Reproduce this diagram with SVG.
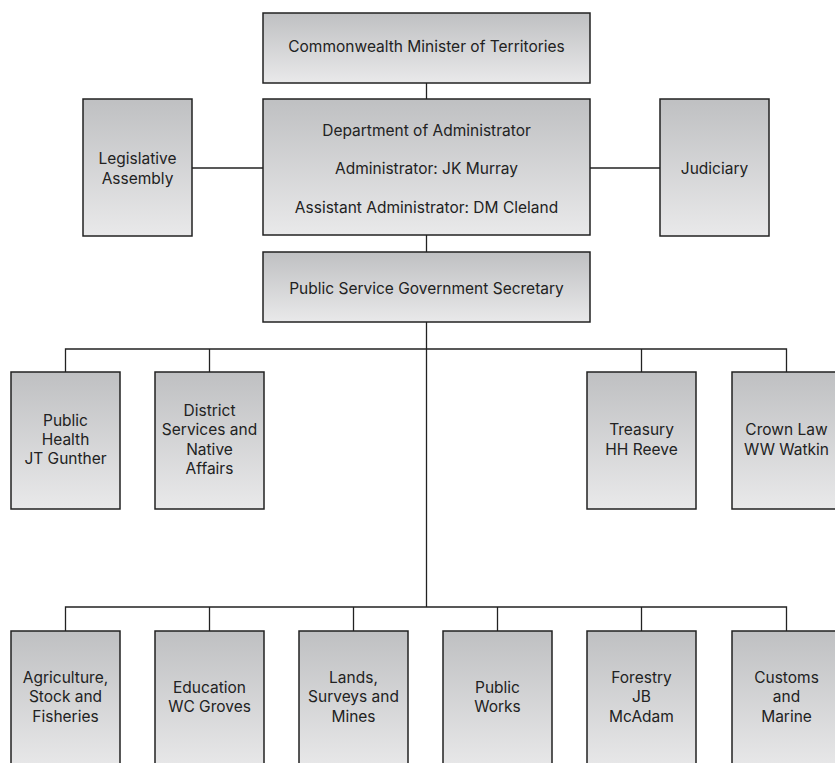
<svg xmlns="http://www.w3.org/2000/svg" width="835" height="763" viewBox="0 0 835 763">
<defs>
<linearGradient id="g" x1="0" y1="0" x2="0" y2="1">
<stop offset="0" stop-color="#bfc0c2"/>
<stop offset="1" stop-color="#e9e9ea"/>
</linearGradient>
<style>
.box{fill:url(#g);stroke:#222;stroke-width:1.5}
.t{font-family:Inter,"Liberation Sans",Arial,sans-serif;font-size:15.5px;fill:#222;text-anchor:middle;dominant-baseline:central}
.c{stroke:#222;stroke-width:1.3;fill:none}
</style>
</defs>
<rect width="835" height="763" fill="#fff"/>
<g id="connectors">
<line class="c" x1="426.5" y1="83" x2="426.5" y2="99"/>
<line class="c" x1="192" y1="168" x2="263" y2="168"/>
<line class="c" x1="590" y1="168" x2="660" y2="168"/>
<line class="c" x1="426.5" y1="235" x2="426.5" y2="252"/>
<line class="c" x1="426.5" y1="322" x2="426.5" y2="607"/>
<polyline class="c" points="65.5,372 65.5,349 786.5,349 786.5,372"/>
<line class="c" x1="209.5" y1="349" x2="209.5" y2="372"/>
<line class="c" x1="641.5" y1="349" x2="641.5" y2="372"/>
<polyline class="c" points="65.5,631 65.5,607 786.5,607 786.5,631"/>
<line class="c" x1="209.5" y1="607" x2="209.5" y2="631"/>
<line class="c" x1="353.5" y1="607" x2="353.5" y2="631"/>
<line class="c" x1="497.5" y1="607" x2="497.5" y2="631"/>
<line class="c" x1="641.5" y1="607" x2="641.5" y2="631"/>
</g>
<g id="minister"><rect class="box" x="263" y="13" width="327" height="70"/><text class="t" x="426.5" y="46">Commonwealth Minister of Territories</text></g>
<g id="department"><rect class="box" x="263" y="99" width="327" height="136"/>
<text class="t" x="426.5" y="130">Department of Administrator</text>
<text class="t" x="426.5" y="168">Administrator: JK Murray</text>
<text class="t" x="426.5" y="207">Assistant Administrator: DM Cleland</text></g>
<g id="legislative"><rect class="box" x="83" y="99" width="109" height="137"/>
<text class="t" x="137.5" y="158">Legislative</text><text class="t" x="137.5" y="178">Assembly</text></g>
<g id="judiciary"><rect class="box" x="660" y="99" width="109" height="137"/>
<text class="t" x="714.5" y="168">Judiciary</text></g>
<g id="publicservice"><rect class="box" x="263" y="252" width="327" height="70"/><text class="t" x="426.5" y="288">Public Service Government Secretary</text></g>
<g id="health"><rect class="box" x="11" y="372" width="109" height="137"/>
<text class="t" x="65.5" y="420">Public</text><text class="t" x="65.5" y="439">Health</text><text class="t" x="65.5" y="458">JT Gunther</text></g>
<g id="district"><rect class="box" x="155" y="372" width="109" height="137"/>
<text class="t" x="209.5" y="410">District</text><text class="t" x="209.5" y="429">Services and</text><text class="t" x="209.5" y="449">Native</text><text class="t" x="209.5" y="468">Affairs</text></g>
<g id="treasury"><rect class="box" x="587" y="372" width="109" height="137"/>
<text class="t" x="641.5" y="429">Treasury</text><text class="t" x="641.5" y="449">HH Reeve</text></g>
<g id="crownlaw"><rect class="box" x="732" y="372" width="109" height="137"/>
<text class="t" x="786.5" y="429">Crown Law</text><text class="t" x="786.5" y="449">WW Watkin</text></g>
<g id="agriculture"><rect class="box" x="11" y="631" width="109" height="140"/>
<text class="t" x="65.5" y="677">Agriculture,</text><text class="t" x="65.5" y="696">Stock and</text><text class="t" x="65.5" y="716">Fisheries</text></g>
<g id="education"><rect class="box" x="155" y="631" width="109" height="140"/>
<text class="t" x="209.5" y="687">Education</text><text class="t" x="209.5" y="706">WC Groves</text></g>
<g id="lands"><rect class="box" x="299" y="631" width="109" height="140"/>
<text class="t" x="353.5" y="677">Lands,</text><text class="t" x="353.5" y="696">Surveys and</text><text class="t" x="353.5" y="716">Mines</text></g>
<g id="works"><rect class="box" x="443" y="631" width="109" height="140"/>
<text class="t" x="497.5" y="687">Public</text><text class="t" x="497.5" y="706">Works</text></g>
<g id="forestry"><rect class="box" x="587" y="631" width="109" height="140"/>
<text class="t" x="641.5" y="677">Forestry</text><text class="t" x="641.5" y="696">JB</text><text class="t" x="641.5" y="716">McAdam</text></g>
<g id="customs"><rect class="box" x="732" y="631" width="109" height="140"/>
<text class="t" x="786.5" y="677">Customs</text><text class="t" x="786.5" y="696">and</text><text class="t" x="786.5" y="716">Marine</text></g>
</svg>
